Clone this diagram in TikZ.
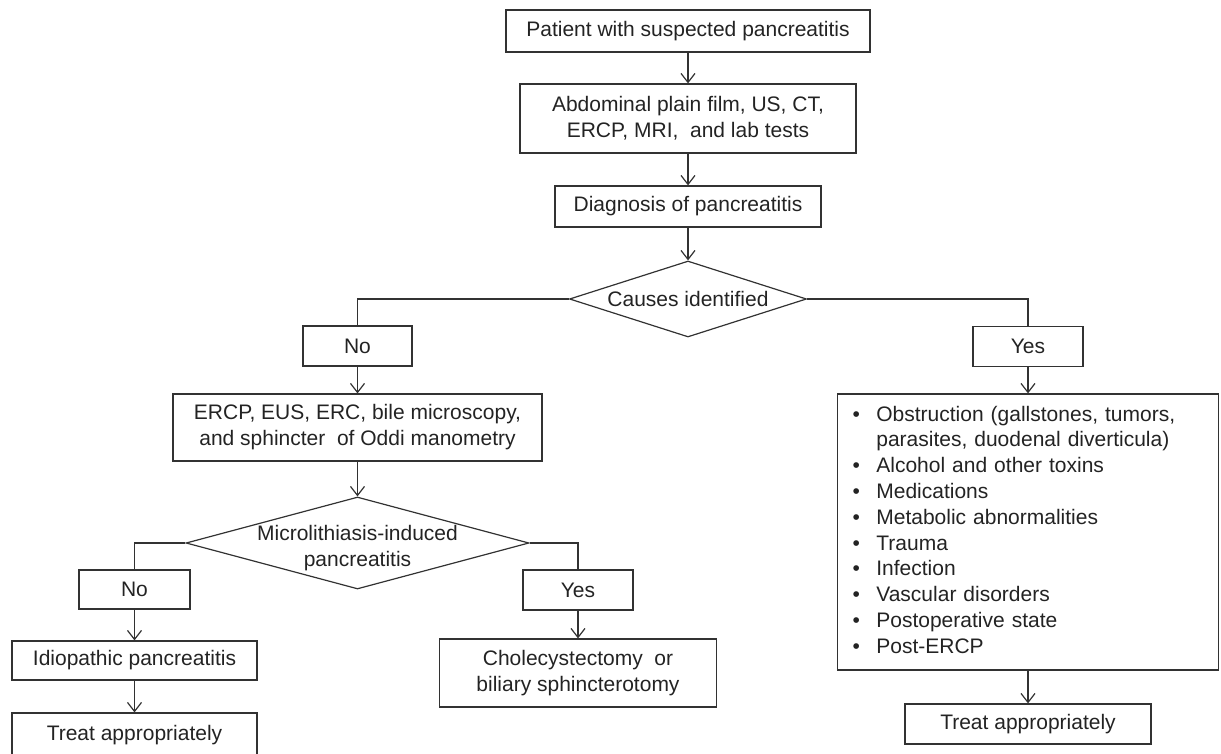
\documentclass[tikz,border=0pt]{standalone}
\usepackage{fontspec}
\setmainfont{Liberation Sans}
\usepackage{xcolor}
\usetikzlibrary{arrows.meta, shapes.geometric}
\definecolor{chartline}{RGB}{50,50,50}
\definecolor{charttext}{RGB}{35,35,35}

\begin{document}
\begin{tikzpicture}[
  x=1pt, y=-1pt,
  font=\fontsize{21}{26}\selectfont,
  box/.style={rectangle, draw=chartline, line width=1.2pt, text=charttext, align=center, inner sep=0pt},
  decision/.style={diamond, draw=chartline, line width=1.2pt, text=charttext, inner sep=0pt, aspect=3},
  flow/.style={draw=chartline, line width=1.2pt, -{Straight Barb[length=9pt, width=14pt]}},
  link/.style={draw=chartline, line width=1.2pt}
]
\clip (0,0) rectangle (1221,754);
\def\midx{688}
\def\nox{357.5}
\def\yesx{1028}
\node[box, minimum width=364pt, minimum height=42pt] (patient) at (\midx,31) {Patient with suspected pancreatitis};
\node[box, minimum width=336pt, minimum height=69pt] (imaging) at (\midx,118.5) {Abdominal plain film, US,\ CT,\\ERCP, MRI,\ \ and lab tests};
\node[box, minimum width=266pt, minimum height=41pt] (diagnosis) at (\midx,206.5) {Diagnosis of pancreatitis};
\node[decision, minimum width=237pt, minimum height=76pt] (causes) at (\midx,299) {Causes identified};
\node[box, minimum width=109pt, minimum height=40pt] (noA) at (\nox,346) {No};
\node[box, minimum width=110pt, minimum height=40pt] (yesA) at (\yesx,346.5) {Yes};
\node[box, minimum width=369pt, minimum height=67pt] (workup) at (\nox,427.5) {ERCP, EUS, ERC, bile microscopy,\\and sphincter\ \ of Oddi manometry};
\node[decision, minimum width=343pt, minimum height=92pt,
  label={[text=charttext, align=center, yshift=-5pt]center:Microlithiasis-induced\\pancreatitis}] (micro) at (\nox,543) {};
\node[box, minimum width=111pt, minimum height=39pt] (noB) at (134.5,589.5) {No};
\node[box, minimum width=110pt, minimum height=40pt] (yesB) at (578,590) {Yes};
\node[box, minimum width=245pt, minimum height=39pt] (idio) at (134.5,660.5) {Idiopathic pancreatitis};
\node[box, minimum width=245pt, minimum height=44pt] (treatA) at (134.5,735) {Treat appropriately};
\node[box, minimum width=277pt, minimum height=68pt] (chole) at (578,673) {Cholecystectomy\ \ or\\biliary sphincterotomy};
\node[box, minimum width=381pt, minimum height=276pt, align=left, inner xsep=15pt, text width=351pt,
  font=\fontsize{21}{25.8}\selectfont] (causelist) at (\yesx,532) {%
  \begin{tabular}{@{}l@{\hspace{16.5pt}}l@{}}
  \textbullet & Obstruction (gallstones, tumors,\\
   & parasites, duodenal diverticula)\\
  \textbullet & Alcohol and other toxins\\
  \textbullet & Medications\\
  \textbullet & Metabolic abnormalities\\
  \textbullet & Trauma\\
  \textbullet & Infection\\
  \textbullet & Vascular disorders\\
  \textbullet & Postoperative state\\
  \textbullet & Post-ERCP
  \end{tabular}};
\node[box, minimum width=246pt, minimum height=40pt] (treatB) at (\yesx,724) {Treat appropriately};
\draw[flow] (patient) -- (imaging);
\draw[flow] (imaging) -- (diagnosis);
\draw[flow] (diagnosis) -- (causes);
\draw[link] (causes.west) -| (noA.north);
\draw[link] (causes.east) -| (yesA.north);
\draw[flow] (noA) -- (workup);
\draw[flow] (workup) -- (micro);
\draw[link] (micro.west) -| (noB.north);
\draw[link] (micro.east) -| (yesB.north);
\draw[flow] (noB) -- (idio);
\draw[flow] (idio) -- (treatA);
\draw[flow] (yesB) -- (chole);
\draw[flow] (yesA) -- (causelist);
\draw[flow] (causelist) -- (treatB);
\end{tikzpicture}
\end{document}
